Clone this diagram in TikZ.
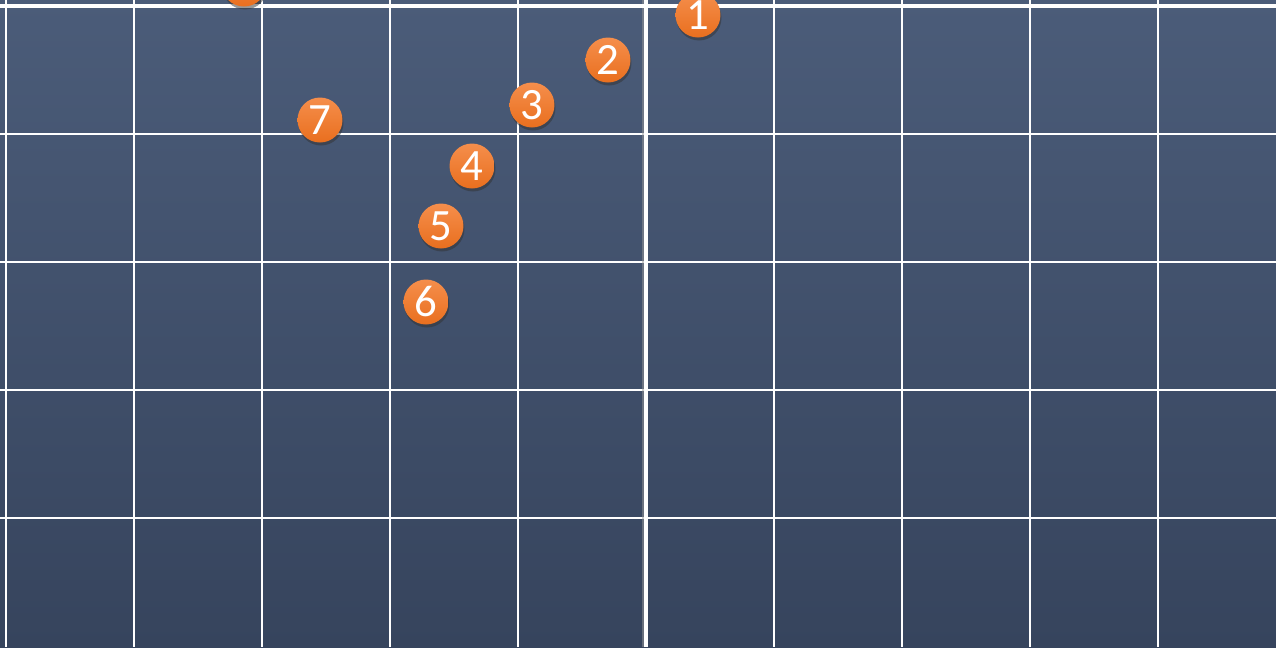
\documentclass[tikz,border=0pt]{standalone}
\usepackage{fontspec}
\setmainfont{Carlito}
\usetikzlibrary{shadows}

\definecolor{bgtop}{RGB}{75,92,121}
\definecolor{bgbot}{RGB}{54,68,93}
\definecolor{dotlight}{RGB}{245,142,75}
\definecolor{dotdark}{RGB}{233,111,30}

\tikzset{
	gridline/.style={white, line width=0.04cm},
	axisline/.style={white, line width=0.085cm},
	numdot/.style={circle, minimum size=0.9cm, inner sep=0pt,
		top color=dotlight, bottom color=dotdark, text=white,
		font=\fontsize{25.5}{25.5}\selectfont,
		drop shadow={shadow xshift=0.02cm, shadow yshift=-0.06cm, opacity=0.5, fill=black!80}},
}

\begin{document}
\begin{tikzpicture}[x=0.02cm, y=-0.02cm]
	
	% Frame and background
	\useasboundingbox (0,0) rectangle (1276,647);
	\clip (0,0) rectangle (1276,647);
	\shade[top color=bgtop, bottom color=bgbot] (0,0) rectangle (1276,647);
	
	% Grid
	\foreach \x in {6,134,262,390,518,774,902,1030,1158}
	\draw[gridline] (\x,0) -- (\x,647);
	\foreach \y in {134,262,390,518}
	\draw[gridline] (0,\y) -- (1276,\y);
	
	% Main axes
	\draw[black!40, line width=0.08cm, opacity=0.5] (644,0) -- (644,647);
	\draw[axisline] (646,0) -- (646,647);
	\draw[axisline] (0,6) -- (1276,6);
	
	% Numbered points
	\node[numdot] (n1) at (698,15) {1};
	\node[numdot] (n2) at (608,60) {2};
	\node[numdot] (n3) at (532,105) {3};
	\node[numdot] (n4) at (472,166) {4};
	\node[numdot] (n5) at (441,226) {5};
	\node[numdot] (n6) at (426,302) {6};
	\node[numdot] (n7) at (320,120) {7};
	\node[numdot] (n8) at (244,-16) {8};
	
\end{tikzpicture}
\end{document}
